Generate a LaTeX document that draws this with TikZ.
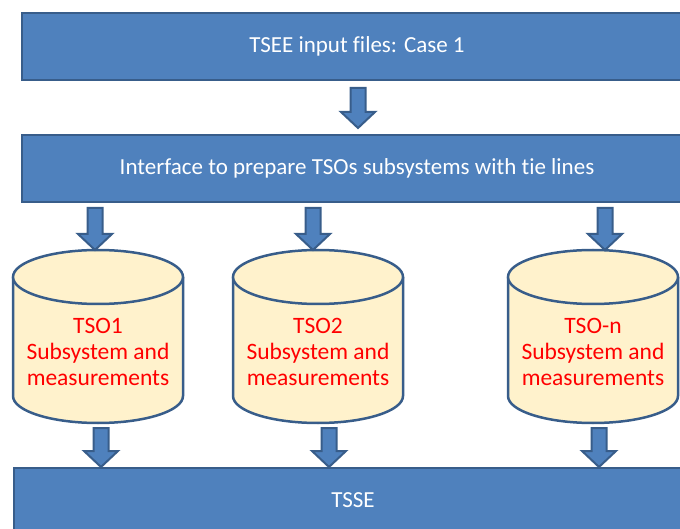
\documentclass[tikz,border=0pt]{standalone}
\usepackage{fontspec}
\setmainfont{Carlito}[Ligatures=NoCommon]
\usetikzlibrary{calc}

\definecolor{boxblue}{HTML}{4F81BD}
\definecolor{boxedge}{HTML}{385D8A}
\definecolor{cylfill}{HTML}{FFF2CC}

\tikzset{
  bluebox/.style={fill=boxblue, draw=boxedge, line width=2.5pt},
  boxtext/.style={text=white, inner sep=0pt, font=\fontsize{23}{26}\selectfont},
  cyltext/.style={text=red, inner sep=0pt, align=center, font=\fontsize{23.5}{26}\selectfont},
  cylbody/.style={fill=cylfill, draw=boxedge, line width=2.5pt},
  blockarrow/.style={fill=boxblue, draw=boxedge, line width=2pt, line join=miter},
}

% block arrow from a start point (top of shaft) to the tip
\newcommand\blockarrow[2]{%
  \draw[blockarrow] ($(#1)+(-7.5,0)$) -- ($(#1)+(7.5,0)$) -- ($(#2)+(7.5,16)$)
    -- ($(#2)+(17,16)$) -- (#2) -- ($(#2)+(-17,16)$) -- ($(#2)+(-7.5,16)$) -- cycle;}

% database cylinder centred at x = #1
\newcommand\database[1]{%
  \fill[cylfill] (#1-85,251) -- (#1-85,132)
    arc[start angle=180, end angle=360, x radius=85, y radius=27] -- (#1+85,251) -- cycle;
  \draw[cylbody, fill=none] (#1-85,251) -- (#1-85,132)
    arc[start angle=180, end angle=360, x radius=85, y radius=27] -- (#1+85,251);
  \draw[cylbody] (#1,251) ellipse[x radius=85, y radius=27];}

\begin{document}
\begin{tikzpicture}[x=1pt, y=1pt]
  \useasboundingbox (0,0) rectangle (680,528);
  \clip (0,0) rectangle (680,528);

  % process boxes
  \draw[bluebox] (22,448) rectangle (700,515);
  \node[boxtext] (input) at (357,481.5) {TSEE input files: Case 1};

  \draw[bluebox] (22,326) rectangle (700,393);
  \node[boxtext] (iface) at (357,359.5) {Interface to prepare TSOs subsystems with tie lines};

  \draw[bluebox] (14,-20) rectangle (700,60);
  \node[boxtext, anchor=base] (tsse) at (353,21) {TSSE};

  % subsystem databases
  \database{98}
  \database{318}
  \database{593}
  \node[cyltext] (tso1) at (98,176.5) {TSO1\\Subsystem and\\measurements};
  \node[cyltext] (tso2) at (318,176.5) {TSO2\\Subsystem and\\measurements};
  \node[cyltext] (tson) at (593,176.5) {TSO-n\\Subsystem and\\measurements};

  % arrow end points
  \coordinate (a0s) at (358,440); \coordinate (a0e) at (358,400);
  \coordinate (a1s) at (95,320);  \coordinate (a1e) at (95,278);
  \coordinate (a2s) at (313,320); \coordinate (a2e) at (313,278);
  \coordinate (a3s) at (605,320); \coordinate (a3e) at (605,278);
  \coordinate (b1s) at (101,100); \coordinate (b1e) at (101,61);
  \coordinate (b2s) at (329,100); \coordinate (b2e) at (329,61);
  \coordinate (b3s) at (599,100); \coordinate (b3e) at (599,61);

  \blockarrow{a0s}{a0e}
  \blockarrow{a1s}{a1e}
  \blockarrow{a2s}{a2e}
  \blockarrow{a3s}{a3e}
  \blockarrow{b1s}{b1e}
  \blockarrow{b2s}{b2e}
  \blockarrow{b3s}{b3e}
\end{tikzpicture}
\end{document}
